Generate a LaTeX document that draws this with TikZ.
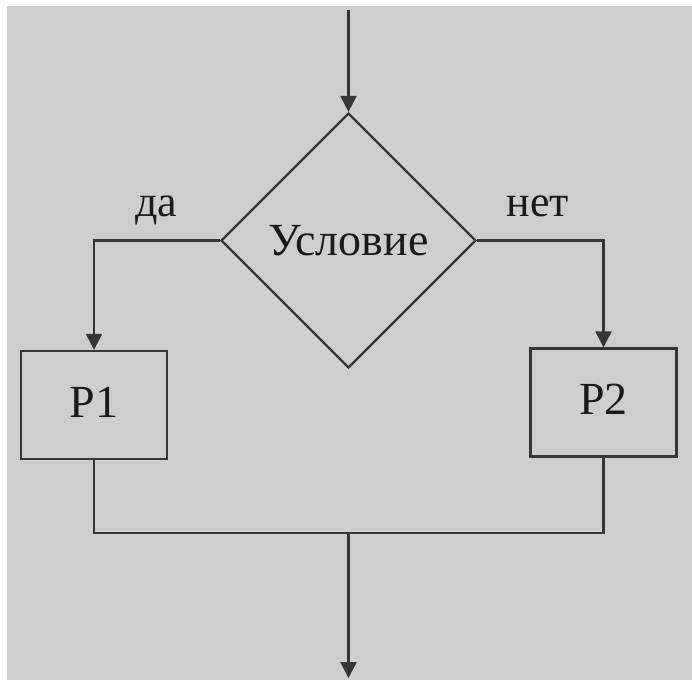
\documentclass[tikz,border=0pt]{standalone}
\usepackage{fontspec}
\setmainfont{Liberation Serif}
\usetikzlibrary{shapes.geometric,arrows.meta}
\definecolor{bg}{HTML}{CECECE}
\definecolor{ln}{HTML}{363636}
\definecolor{tx}{HTML}{1A1A1A}
\begin{document}
\begin{tikzpicture}[x=1pt,y=-1pt,
  line/.style={draw=ln,line width=2.3pt},
  arr/.style={line,-{Triangle[width=16pt,length=16pt]}},
  proc/.style={line,rectangle,minimum width=146pt,minimum height=108pt,inner sep=0pt,text depth=6pt,
    font=\fontsize{46}{50}\selectfont,text=tx},
  cond/.style={line,diamond,minimum width=255pt,minimum height=255pt,inner sep=0pt,
    font=\fontsize{46}{50}\selectfont,text=tx},
  lab/.style={font=\fontsize{44}{48}\selectfont,anchor=base,inner sep=0pt,text=tx}]
\useasboundingbox (0,0) rectangle (692,680);
\fill[white] (0,0) rectangle (692,680);
\fill[bg] (7,6) rectangle (692,680);
\node[cond] (c) at (348.5,240.5) {Условие};
\node[proc] (p1) at (94,405) {Р1};
\node[proc] (p2) at (603.5,402.5) {Р2};
\node[lab] (da) at (156,216) {да};
\node[lab] (net) at (538,216) {нет};
\coordinate (top) at (348.5,10);
\coordinate (j) at (348.5,533);
\coordinate (bot) at (348.5,678);
\draw[arr] (top) -- (c.north);
\draw[arr] (c.west) -| (p1.north);
\draw[arr] (c.east) -| (p2.north);
\draw[line] (p1.south) |- (j) -| (p2.south);
\draw[arr] (j) -- (bot);
\end{tikzpicture}
\end{document}
